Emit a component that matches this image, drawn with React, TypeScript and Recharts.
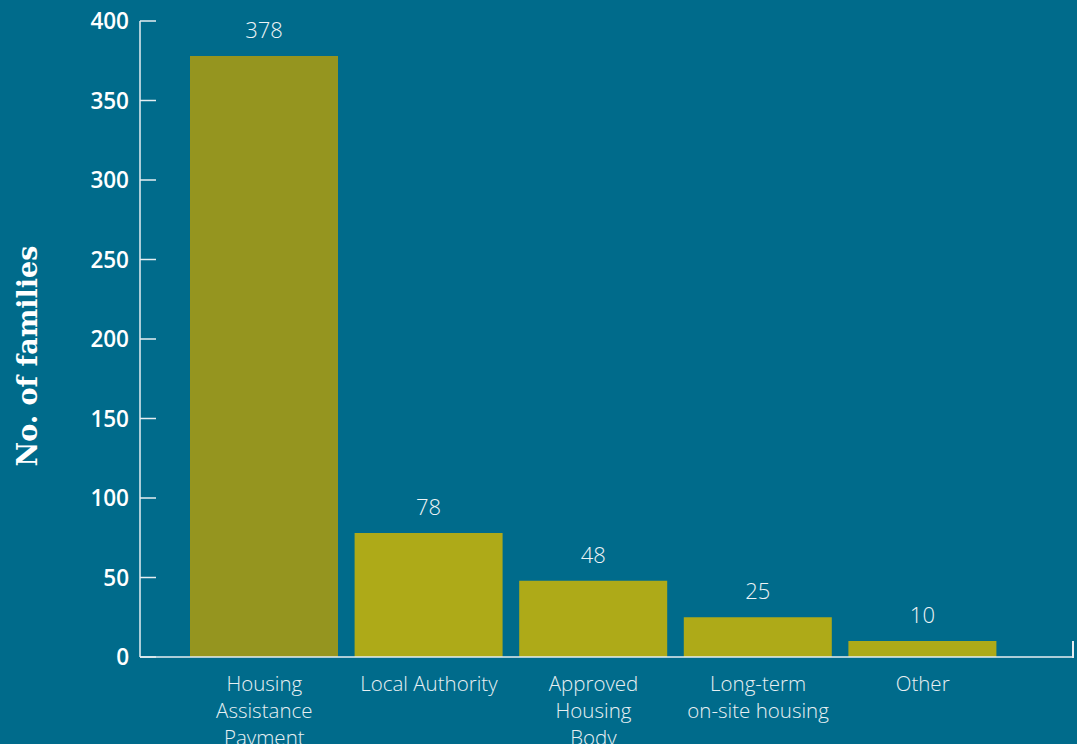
import { BarChart, Bar, XAxis, YAxis, Cell, LabelList } from "recharts";

const categories = [
  "Housing\nAssistance\nPayment",
  "Local Authority",
  "Approved\nHousing\nBody",
  "Long-term\non-site housing",
  "Other",
];
const families = [378, 78, 48, 25, 10];
const yTicks = [0, 50, 100, 150, 200, 250, 300, 350, 400];
const barColors = ["#95951f", "#aeaa18", "#aeaa18", "#aeaa18", "#aeaa18"];

const data = categories.map((name, i) => ({ name, value: families[i] }));

const BG = "#006b8b";

function YTick({ x, y, payload }: any) {
  return (
    <g>
      <line x1={x + 8} x2={x + 24} y1={y} y2={y} stroke="#e6eef2" strokeWidth={1.5} />
      <text
        x={x - 3}
        y={y}
        dy={8}
        textAnchor="end"
        fill="#ffffff"
        fontSize={22.5}
        fontWeight={600}
        fontFamily="'Open Sans', sans-serif"
      >
        {payload.value}
      </text>
    </g>
  );
}

function XTick({ x, y, payload }: any) {
  const lines = String(payload.value).split("\n");
  return (
    <g>
      {lines.map((l, i) => (
        <text
          key={i}
          x={x}
          y={y + 26 + i * 27}
          textAnchor="middle"
          fill="#e8f0f3"
          fontSize={20.5}
          fontWeight={300}
          fontFamily="'Open Sans', sans-serif"
        >
          {l}
        </text>
      ))}
    </g>
  );
}

export default function App() {
  return (
    <div style={{ position: "fixed", left: 0, top: 0, width: 1077, height: 744, background: BG, overflow: "hidden" }}>
      <BarChart
        width={1077}
        height={744}
        data={data}
        margin={{ top: 21, right: 4, bottom: 57, left: 40 }}
      >
        <XAxis
          dataKey="name"
          interval={0}
          height={30}
          padding={{ left: 42, right: 68 }}
          axisLine={{ stroke: "#e6eef2", strokeWidth: 1.5 }}
          tickLine={false}
          tick={<XTick />}
        />
        <YAxis
          width={100}
          domain={[0, 400]}
          ticks={yTicks}
          interval={0}
          tickSize={0}
          tickMargin={8}
          axisLine={{ stroke: "#e6eef2", strokeWidth: 1.5 }}
          tickLine={false}
          tick={<YTick />}
        />
        <Bar dataKey="value" barSize={148} isAnimationActive={false}>
          {data.map((d, i) => (
            <Cell key={d.name} fill={barColors[i]} />
          ))}
          <LabelList
            dataKey="value"
            position="top"
            offset={18}
            fill="#eef4f6"
            fontSize={22}
            fontWeight={300}
            fontFamily="'Open Sans', sans-serif"
          />
        </Bar>
      </BarChart>
      <div
        style={{
          position: "absolute",
          left: 1072,
          top: 641,
          width: 1.5,
          height: 17,
          background: "#e6eef2",
        }}
      />
      <div
        style={{
          position: "absolute",
          left: 27,
          top: 356,
          transform: "translate(-50%, -50%) rotate(-90deg)",
          whiteSpace: "nowrap",
          color: "#ffffff",
          fontFamily: "'DejaVu Serif', serif",
          fontWeight: 700,
          fontSize: 27,
        }}
      >
        No. of families
      </div>
    </div>
  );
}
